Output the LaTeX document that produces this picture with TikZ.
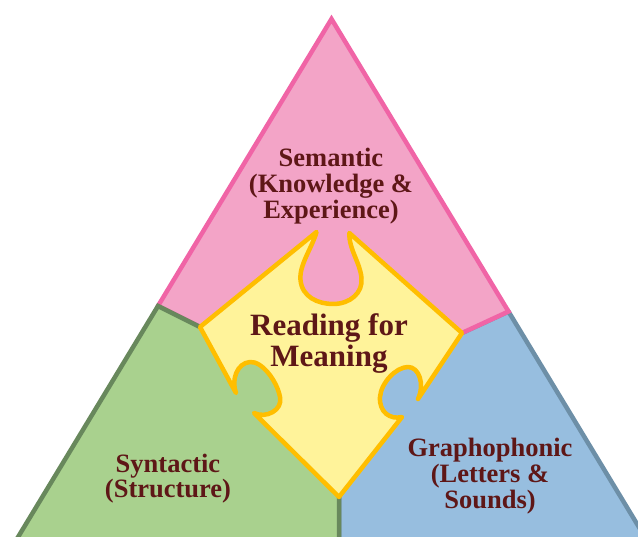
\documentclass[tikz,border=0pt]{standalone}
\usepackage{fontspec}
\setmainfont{Liberation Serif}
\definecolor{pinkfill}{RGB}{243,164,199}
\definecolor{pinkline}{RGB}{240,100,166}
\definecolor{greenfill}{RGB}{169,209,142}
\definecolor{greenline}{RGB}{104,136,92}
\definecolor{bluefill}{RGB}{151,190,223}
\definecolor{blueline}{RGB}{109,143,167}
\definecolor{puzfill}{RGB}{255,243,154}
\definecolor{puzline}{RGB}{255,190,0}
\definecolor{txt}{RGB}{94,23,23}
\tikzset{
  region/.style={line width=4.5pt, line join=miter, miter limit=10},
  lbl/.style={anchor=base, inner sep=0pt, text=txt, font=\fontsize{26.5}{27}\selectfont\bfseries},
  title/.style={anchor=base, inner sep=0pt, text=txt, font=\fontsize{31}{32}\selectfont\bfseries},
  puzzle/.style={line width=4.5pt, line join=round, fill=puzfill, draw=puzline}
}
\begin{document}
\begin{tikzpicture}[x=1pt,y=-1pt]
\useasboundingbox (0,0) rectangle (638,537);
\clip (0,0) rectangle (638,537);
% key points
\coordinate (apex) at (331.5,19);
\coordinate (pg) at (158,306);
\coordinate (pb) at (508.5,311.5);
\coordinate (bl) at (10.2,550);
\coordinate (br) at (652.8,550);
\coordinate (gbb) at (339,550);
\coordinate (L) at (200,327);
\coordinate (R) at (462,333);
\coordinate (B) at (339,497);
\coordinate (C) at (330,380);
% regions
\draw[region, fill=bluefill, draw=blueline] (pb) -- (br) -- (gbb) -- (B) -- (C) -- (R) -- cycle;
\draw[region, fill=pinkfill, draw=pinkline] (apex) -- (pg) -- (L) -- (C) -- (R) -- (pb) -- cycle;
\draw[region, fill=greenfill, draw=greenline] (pg) -- (bl) -- (gbb) -- (B) -- (C) -- (L) -- cycle;
% puzzle piece
\draw[puzzle] (L) -- (316.5,232)
  .. controls (312,248) and (299,265) .. (300.5,280)
  .. controls (302,297) and (318,304) .. (333,304)
  .. controls (350,304) and (363,293) .. (361.5,278)
  .. controls (360,262) and (349,250) .. (349.3,233)
  -- (R) -- (418,399)
  .. controls (425,384) and (419,367) .. (408,367)
  .. controls (396,367) and (381,383) .. (380,397)
  .. controls (379,412) and (390,420) .. (402,417)
  -- (B) -- (254,413)
  .. controls (266,419) and (283,410) .. (280,397)
  .. controls (277,381) and (262,361) .. (250,362)
  .. controls (237,363) and (231,380) .. (236,393)
  -- cycle;
% labels
\node[lbl] (sem1) at (331,166.5) {Semantic};
\node[lbl] (sem2) at (331,192.5) {(Knowledge \&};
\node[lbl] (sem3) at (331,218.5) {Experience)};
\node[title] (rfm1) at (329,336) {Reading for};
\node[title] (rfm2) at (329,367) {Meaning};
\node[lbl] (syn1) at (168,473) {Syntactic};
\node[lbl] (syn2) at (168,497.5) {(Structure)};
\node[lbl] (gra1) at (490,457) {Graphophonic};
\node[lbl] (gra2) at (490,483) {(Letters \&};
\node[lbl] (gra3) at (490,508) {Sounds)};
\end{tikzpicture}
\end{document}
